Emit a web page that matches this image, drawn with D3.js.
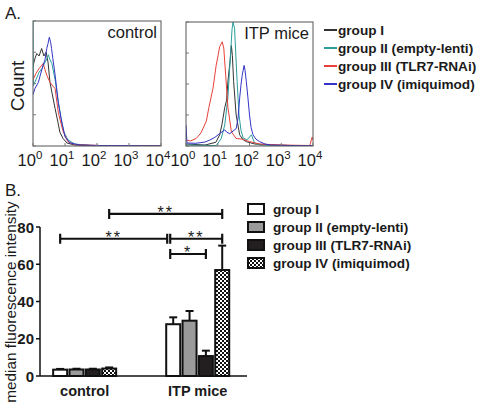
<!DOCTYPE html>
<html><head><meta charset="utf-8">
<script src="https://cdn.jsdelivr.net/npm/d3@7"></script>
<style>body{margin:0;background:#fff} text{font-family:"Liberation Sans",Arial,sans-serif;fill:#1a1a1a}</style>
</head><body><svg id="c" width="487" height="406" xmlns="http://www.w3.org/2000/svg"></svg>
<script>
// ---------- Panel A data: [log10 intensity, count (% of max)] ----------
const histGroups = ["group I", "group II (empty-lenti)", "group III (TLR7-RNAi)", "group IV (imiquimod)"];
const histColors = ["#333333", "#2a9e9c", "#e8403a", "#3434c8"];
const decades = [0, 1, 2, 3, 4];
const countTicks = [0, 25, 50, 75, 100];

const ctrlI = [[0,64],[0.06,70],[0.12,74],[0.19,72],[0.27,78],[0.34,72],[0.41,75],[0.47,67],[0.53,51],[0.59,43],[0.69,30],[0.78,19],[0.84,11],[0.94,6],[1.06,2.4],[1.3,0.8],[1.8,0.4],[2.5,0.3],[4,0]];
const ctrlII = [[0,100],[0.01,48],[0.09,53],[0.19,59],[0.28,62],[0.375,67],[0.44,70],[0.48,73],[0.53,69],[0.59,66],[0.69,53],[0.78,37],[0.875,22],[0.97,11],[1.09,5],[1.3,1.6],[1.8,0.4],[2.6,0.3],[4,0]];
const ctrlIII = [[0,53],[0.09,58],[0.19,62],[0.32,66],[0.375,61],[0.44,56],[0.53,51],[0.62,48],[0.69,46],[0.79,27],[0.875,18],[0.95,11],[1.09,3.4],[1.3,1.2],[2.1,0.4],[3.3,0.2],[4,0]];
const ctrlIV = [[0,41],[0.06,46],[0.17,51],[0.22,56],[0.32,65],[0.375,69],[0.43,78],[0.47,82],[0.51,87],[0.55,83],[0.58,78],[0.62,70],[0.69,57],[0.79,35],[0.9,19],[1.0,7.4],[1.16,2.4],[1.47,0.8],[2.1,0.4],[3,0.3],[4,0]];

const itpI = [[0,1.6],[0.6,0.8],[0.94,3],[1.06,9],[1.13,17],[1.22,31],[1.28,37],[1.32,52],[1.39,69],[1.43,81],[1.46,73],[1.5,52],[1.58,25],[1.69,9],[1.8,5],[1.9,3.5],[2.17,1.6],[2.65,0.8],[4,0]];
const itpII = [[0,0.8],[0.95,0.3],[1.11,6],[1.22,17],[1.32,39],[1.4,73],[1.45,94],[1.48,100],[1.53,95],[1.55,84],[1.61,52],[1.67,25],[1.73,13],[1.8,6.5],[1.92,5],[2.06,9],[2.16,2.4],[2.33,0.8],[4,0]];
const itpIII = [[0,5],[0.13,4],[0.32,6],[0.47,10.5],[0.64,20],[0.72,31],[0.85,46.5],[0.95,65],[1.01,73],[1.06,80],[1.1,82],[1.14,84],[1.19,79],[1.25,57],[1.32,31],[1.43,11.5],[1.58,6],[1.76,5.6],[2.0,3.5],[2.33,1.6],[2.96,0.8],[3.9,0.4],[3.97,7],[4,5]];
const itpIV = [[0,17],[0.03,2.4],[0.31,2.2],[0.6,3.2],[0.75,4.8],[0.91,7],[1.06,10],[1.22,13],[1.29,11],[1.38,10],[1.48,12],[1.58,14],[1.64,22.6],[1.69,38.5],[1.73,49],[1.77,57],[1.83,65],[1.86,61],[1.9,52],[1.95,39],[2.0,25],[2.05,15],[2.11,9],[2.2,5.6],[2.32,3.5],[2.49,1.6],[2.65,0.8],[3.27,0.4],[4,0.2]];

// ---------- Panel B data ----------
const categories = ["control", "ITP mice"];
const barGroups = ["group I", "group II (empty-lenti)", "group III (TLR7-RNAi)", "group IV (imiquimod)"];
const controlMean = [3.4, 3.5, 3.5, 4.0];
const controlUpper = [3.8, 3.9, 3.9, 4.6];
const itpMean = [27.8, 29.7, 10.7, 56.9];
const itpUpper = [31.5, 34.9, 13.6, 70];
const yTicks = [0, 20, 40, 60, 80];
// significance brackets: [fromCategory, fromBar], [toCategory, toBar], level, label
const sigFrom = [[0,3],[0,0],[1,0],[1,0]];
const sigTo = [[1,3],[1,0],[1,3],[1,2]];
const sigLevel = [87, 73.7, 73.7, 65.5];
const sigLabel = ["**", "**", "**", "*"];

const svg = d3.select("#c");
const defs = svg.append("defs");
const pat = defs.append("pattern").attr("id","chk").attr("patternUnits","userSpaceOnUse")
  .attr("width",4).attr("height",4);
pat.append("rect").attr("width",4).attr("height",4).attr("fill","#111");
pat.append("rect").attr("x",0).attr("y",0).attr("width",2).attr("height",2).attr("fill","#fff");
pat.append("rect").attr("x",2).attr("y",2).attr("width",2).attr("height",2).attr("fill","#fff");
const barFills = ["#ffffff", "#9a9a9a", "#231f20", "url(#chk)"];

// ---------- Panel A ----------
svg.append("text").attr("x",5).attr("y",19).attr("font-size",17).text("A.");
svg.append("text").attr("transform","translate(24,86) rotate(-90)").attr("text-anchor","middle")
  .attr("font-size",19).text("Count");

function histPanel(x0, x1, y0, y1, curves, title) {
  const x = d3.scaleLog().domain([1, 1e4]).range([x0, x1]);
  const y = d3.scaleLinear().domain([0, 100]).range([y1, y0]);
  const g = svg.append("g");
  const clipId = "clip" + x0;
  defs.append("clipPath").attr("id", clipId).append("rect")
    .attr("x", x0).attr("y", y0 - 1).attr("width", x1 - x0).attr("height", y1 - y0 + 1);
  const line = d3.line().x(d => x(Math.pow(10, d[0]))).y(d => y(d[1]));
  curves.forEach((c, i) => {
    g.append("path").attr("d", line(c)).attr("fill","none")
      .attr("stroke", histColors[i]).attr("stroke-width",1).attr("clip-path","url(#"+clipId+")");
  });
  g.append("rect").attr("x",x0).attr("y",y0).attr("width",x1-x0).attr("height",y1-y0)
    .attr("fill","none").attr("stroke","#555").attr("stroke-width",1);
  g.selectAll(".yt").data(countTicks).enter().append("line")
    .attr("x1",x0).attr("x2",x0+3).attr("y1",d=>y(d)).attr("y2",d=>y(d)).attr("stroke","#777");
  g.selectAll(".xt").data(decades).enter().append("line")
    .attr("x1",d=>x(Math.pow(10,d))).attr("x2",d=>x(Math.pow(10,d)))
    .attr("y1",y1).attr("y2",y1-3).attr("stroke","#777");
  const lab = g.selectAll(".xl").data(decades).enter().append("text")
    .attr("x", d => x(Math.pow(10, d)) - 3).attr("y", y1 + 20)
    .attr("text-anchor","middle").attr("font-size",16.5);
  lab.append("tspan").text("10");
  lab.append("tspan").attr("dy",-7).attr("font-size",11.5).text(d => d);
  g.append("text").attr("x", x1 - 4).attr("y", y0 + 17).attr("text-anchor","end")
    .attr("font-size",16.5).text(title);
}
histPanel(33, 161, 21, 146, [ctrlI, ctrlII, ctrlIII, ctrlIV], "control");
histPanel(186, 313, 22, 146, [itpI, itpII, itpIII, itpIV], "ITP mice");

// legend A
const legA = svg.append("g");
histGroups.forEach((name, i) => {
  const yy = 30 + i * 18;
  legA.append("line").attr("x1",324).attr("x2",337).attr("y1",yy).attr("y2",yy)
    .attr("stroke",histColors[i]).attr("stroke-width",2);
  legA.append("text").attr("x",338).attr("y",yy+5).attr("font-size",13.6)
    .attr("font-weight","bold").text(name);
});

// ---------- Panel B ----------
svg.append("text").attr("x",5).attr("y",196).attr("font-size",17).text("B.");
const yB = d3.scaleLinear().domain([0, 80]).range([376, 227]);
const xB = d3.scaleBand().domain(categories).range([40, 247]).paddingInner(0.425).paddingOuter(0.128).align(0.42);
const xInner = d3.scaleBand().domain(d3.range(4)).range([0, xB.bandwidth()]).paddingInner(0.02);

svg.append("text").attr("transform","translate(16,302) rotate(-90)").attr("text-anchor","middle")
  .attr("font-size",15.3).text("median fluorescence intensity");

const gB = svg.append("g");
const means = [controlMean, itpMean];
const uppers = [controlUpper, itpUpper];
categories.forEach((cat, ci) => {
  means[ci].forEach((v, bi) => {
    const bx = xB(cat) + xInner(bi);
    const bw = xInner.bandwidth();
    const cx = bx + bw / 2;
    gB.append("line").attr("x1",cx).attr("x2",cx).attr("y1",yB(v)).attr("y2",yB(uppers[ci][bi]))
      .attr("stroke","#111").attr("stroke-width",2);
    gB.append("line").attr("x1",cx-4).attr("x2",cx+4).attr("y1",yB(uppers[ci][bi])).attr("y2",yB(uppers[ci][bi]))
      .attr("stroke","#111").attr("stroke-width",2);
    gB.append("rect").attr("x",bx+1).attr("y",yB(v)).attr("width",bw-2).attr("height",yB(0)-yB(v))
      .attr("fill",barFills[bi]).attr("stroke","#111").attr("stroke-width",2);
  });
});
gB.append("line").attr("x1",40).attr("x2",247).attr("y1",yB(0)).attr("y2",yB(0)).attr("stroke","#111").attr("stroke-width",1.5);
gB.append("line").attr("x1",40).attr("x2",40).attr("y1",yB(0)).attr("y2",yB(80)).attr("stroke","#111").attr("stroke-width",1.5);
yTicks.forEach(t => {
  gB.append("line").attr("x1",36).attr("x2",40).attr("y1",yB(t)).attr("y2",yB(t)).attr("stroke","#111").attr("stroke-width",1.5);
  gB.append("text").attr("x",34).attr("y",yB(t)+5.5).attr("text-anchor","end").attr("font-size",15)
    .attr("font-weight","bold").text(t);
});
categories.forEach(cat => {
  gB.append("text").attr("x", xB(cat) + xB.bandwidth()/2).attr("y",396).attr("text-anchor","middle")
    .attr("font-size",14.5).attr("font-weight","bold").text(cat);
});
function barCenter(ref) { return xB(categories[ref[0]]) + xInner(ref[1]) + xInner.bandwidth()/2; }
sigLabel.forEach((lab, i) => {
  let xa = barCenter(sigFrom[i]), xb = barCenter(sigTo[i]);
  if (sigTo[i][0] === 1 && sigTo[i][1] === 0) xb -= 6;
  if (sigFrom[i][0] === 1 && sigFrom[i][1] === 0) xa -= 3;
  const yy = yB(sigLevel[i]);
  gB.append("line").attr("x1",xa).attr("x2",xb).attr("y1",yy).attr("y2",yy).attr("stroke","#111").attr("stroke-width",2.2);
  [xa, xb].forEach(xx => gB.append("line").attr("x1",xx).attr("x2",xx).attr("y1",yy-5).attr("y2",yy+5)
    .attr("stroke","#111").attr("stroke-width",2.2));
  gB.append("text").attr("x",(xa+xb)/2).attr("y",yy+4).attr("text-anchor","middle")
    .attr("font-size",16).attr("letter-spacing",2).text(lab);
});

// legend B
barGroups.forEach((name, i) => {
  const yy = 209 + i * 18;
  svg.append("rect").attr("x",248).attr("y",yy-5).attr("width",16).attr("height",10)
    .attr("fill",barFills[i]).attr("stroke","#111").attr("stroke-width",2);
  svg.append("text").attr("x",273).attr("y",yy+5).attr("font-size",13.6).attr("font-weight","bold").text(name);
});
</script></body></html>
